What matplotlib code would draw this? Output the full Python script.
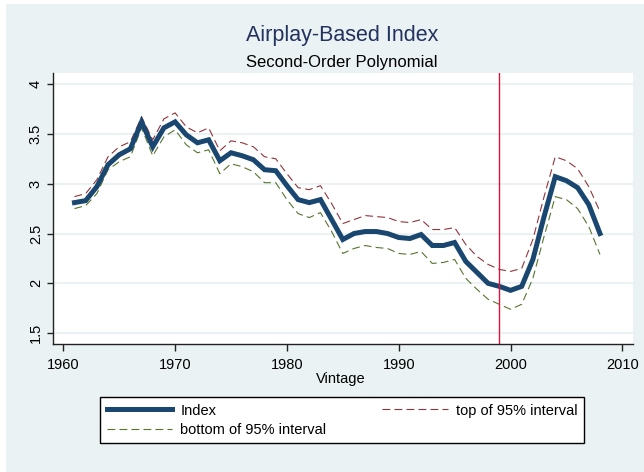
import matplotlib
matplotlib.use("Agg")
import matplotlib.pyplot as plt
from matplotlib.patches import Rectangle
from matplotlib.lines import Line2D

years = list(range(1961, 2009))
index_vals = [2.81, 2.83, 2.97, 3.19, 3.29, 3.35, 3.62, 3.37, 3.56, 3.62,
              3.49, 3.41, 3.44, 3.23, 3.31, 3.28, 3.24, 3.14, 3.13, 2.98,
              2.84, 2.81, 2.84, 2.64, 2.44, 2.50, 2.52, 2.52, 2.50, 2.46,
              2.45, 2.49, 2.38, 2.38, 2.41, 2.22, 2.11, 2.00, 1.97, 1.93,
              1.97, 2.24, 2.67, 3.07, 3.03, 2.96, 2.79, 2.50]
top_vals = [2.87, 2.90, 3.04, 3.27, 3.37, 3.42, 3.67, 3.44, 3.65, 3.71,
            3.57, 3.51, 3.56, 3.33, 3.43, 3.41, 3.37, 3.27, 3.25, 3.10,
            2.96, 2.94, 2.98, 2.80, 2.60, 2.64, 2.68, 2.67, 2.66, 2.62,
            2.61, 2.64, 2.54, 2.54, 2.56, 2.39, 2.27, 2.19, 2.14, 2.12,
            2.15, 2.44, 2.87, 3.27, 3.23, 3.15, 2.97, 2.72]
bottom_vals = [2.75, 2.78, 2.90, 3.14, 3.22, 3.27, 3.56, 3.28, 3.47, 3.54,
               3.39, 3.31, 3.34, 3.10, 3.20, 3.17, 3.12, 3.01, 3.01, 2.84,
               2.70, 2.66, 2.71, 2.52, 2.30, 2.35, 2.38, 2.36, 2.35, 2.30,
               2.29, 2.32, 2.20, 2.21, 2.24, 2.05, 1.94, 1.84, 1.79, 1.74,
               1.79, 2.05, 2.47, 2.87, 2.84, 2.75, 2.57, 2.29]
vline_year = 1999
xticks = [1960, 1970, 1980, 1990, 2000, 2010]
yticks = [1.5, 2, 2.5, 3, 3.5, 4]
ytick_labels = ["1.5", "2", "2.5", "3", "3.5", "4"]

BG = "#EAF2F3"
NAVY = "#1A476F"
MAROON = "#90353B"
GREEN = "#55752F"
RED = "#DC143C"

plt.rcParams['font.family'] = ['Liberation Sans', 'DejaVu Sans']

fig = plt.figure(figsize=(6.44, 4.72), dpi=100, facecolor="white")
fig.patches.append(Rectangle((6/644, 0), 1, 1 - 4/472, transform=fig.transFigure,
                             facecolor=BG, edgecolor="none", zorder=-10))

ax = fig.add_axes([53.3/644, 1 - 344/472, (632.5 - 53.3)/644, (344 - 72.7)/472])
ax.set_facecolor("white")

ax.plot(years, top_vals, color=MAROON, lw=0.8, dashes=(7, 3.8))
ax.plot(years, bottom_vals, color=GREEN, lw=0.8, dashes=(7, 3.8))
ax.plot(years, index_vals, color=NAVY, lw=3.6, solid_joinstyle='miter')
ax.axvline(vline_year, color=RED, lw=1.0)

ax.set_xlim(1959.105, 2010.91)
ax.set_ylim(1.392, 4.113)
ax.set_xticks(xticks)
ax.set_yticks(yticks)
ax.set_yticklabels(ytick_labels, rotation=90, va='center')
for y in yticks:
    ax.axhline(y, color=BG, lw=1.5, zorder=0)

for s in ['top', 'right']:
    ax.spines[s].set_visible(False)
for s in ['left', 'bottom']:
    ax.spines[s].set_color("#222222")
    ax.spines[s].set_linewidth(1.0)

ax.tick_params(axis='x', length=4.8, width=1.0, color="#222222", labelsize=10.5, pad=5)
ax.tick_params(axis='y', length=4.5, width=1.0, color="#222222", labelsize=10.5, pad=3)

fig.text(342/644, 1 - 35/472, "Airplay-Based Index", ha='center', va='center',
         fontsize=15.5, color="#23325E")
fig.text(342/644, 1 - 62/472, "Second-Order Polynomial", ha='center', va='center',
         fontsize=12, color="black")
fig.text(341/644, 1 - 379/472, "Vintage", ha='center', va='center', fontsize=10.5,
         color="black")

h_index = Line2D([], [], color=NAVY, lw=3.6)
h_top = Line2D([], [], color=MAROON, lw=0.8, dashes=(7, 3.8))
h_bot = Line2D([], [], color=GREEN, lw=0.8, dashes=(7, 3.8))
leg = fig.legend([h_index, h_bot, h_top],
                 ["Index", "bottom of 95% interval", "top of 95% interval"],
                 ncol=2, loc='upper left',
                 bbox_to_anchor=(100/644, 1 - 450/472, 484/644, 53/472),
                 mode='expand', fontsize=10.5, handlelength=4.5, handletextpad=0.55,
                 labelspacing=0.35, borderpad=0.45, borderaxespad=0,
                 fancybox=False, frameon=True, framealpha=1)
leg.get_frame().set_edgecolor("black")
leg.get_frame().set_linewidth(1.0)
leg.get_frame().set_facecolor("white")

fig.savefig("out.png", dpi=100, facecolor=fig.get_facecolor())
